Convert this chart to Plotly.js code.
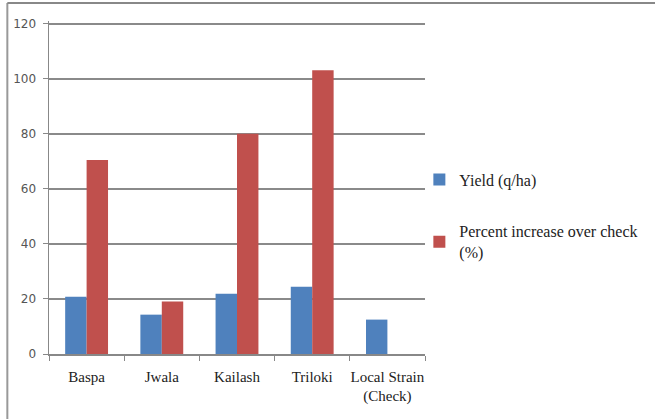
<!DOCTYPE html>
<html>
<head>
<meta charset="utf-8">
<script src="https://cdn.plot.ly/plotly-3.0.1.min.js"></script>
<style>html,body{margin:0;padding:0;background:#fff;}#chart{width:655px;height:419px;}</style>
</head>
<body>
<div id="chart"></div>
<script>
const categories = ["Baspa", "Jwala", "Kailash", "Triloki", "Local Strain<br>(Check)"];
const yieldValues = [20.8, 14.3, 21.9, 24.4, 12.5];
const percentValues = [70.5, 19.1, 80.0, 103.1, 0];
const seriesNames = ["Yield (q/ha)", "Percent increase over check<br>(%)"];
const yTicks = [0, 20, 40, 60, 80, 100, 120];

const traces = [
  {type: 'bar', x: categories, y: yieldValues, name: seriesNames[0], legendgroup: 'a',
   marker: {color: '#4F81BD'}},
  {type: 'bar', x: categories, y: percentValues, name: seriesNames[1], legendgroup: 'b',
   marker: {color: '#C0504D'}}
];

const layout = {
  width: 655, height: 419,
  margin: {l: 49, r: 227, t: 21, b: 65},
  paper_bgcolor: '#fff', plot_bgcolor: '#fff',
  barmode: 'group', bargap: 0.43, bargroupgap: 0,
  showlegend: true,
  legend: {x: 0.985, y: 0.575, xanchor: 'left', yanchor: 'top', traceorder: 'grouped',
           tracegroupgap: 28, bgcolor: 'rgba(0,0,0,0)',
           font: {family: 'Liberation Serif, Times New Roman, serif', size: 16, color: '#222'},
           itemwidth: 30},
  xaxis: {type: 'category', showline: true, linecolor: '#888', linewidth: 1.5,
          ticks: 'outside', tickson: 'boundaries', ticklen: 5, tickcolor: '#888',
          tickangle: 0, showgrid: false, fixedrange: true, ticklabelstandoff: 8,
          tickfont: {family: 'Liberation Serif, Times New Roman, serif', size: 15, color: '#222'}},
  yaxis: {range: [0, 121], tickvals: yTicks, showline: true, linecolor: '#888', linewidth: 1.5,
          ticks: 'outside', ticklen: 5, tickcolor: '#888', showgrid: true,
          gridcolor: '#8a8a8a', gridwidth: 1.5, zeroline: false, ticklabelstandoff: 4,
          tickfont: {family: 'DejaVu Sans, sans-serif', size: 12, color: '#555'}},
  shapes: [
    {type: 'line', xref: 'paper', yref: 'paper', x0: -0.1108, x1: -0.1108, y0: -0.3, y1: 1.0544,
     line: {color: '#999', width: 2}},
    {type: 'line', xref: 'paper', yref: 'paper', x0: -0.1108, x1: 1.7, y0: 1.0544, y1: 1.0544,
     line: {color: '#888', width: 2}}
  ]
};

Plotly.newPlot('chart', traces, layout, {displayModeBar: false, staticPlot: true});
</script>
</body>
</html>
